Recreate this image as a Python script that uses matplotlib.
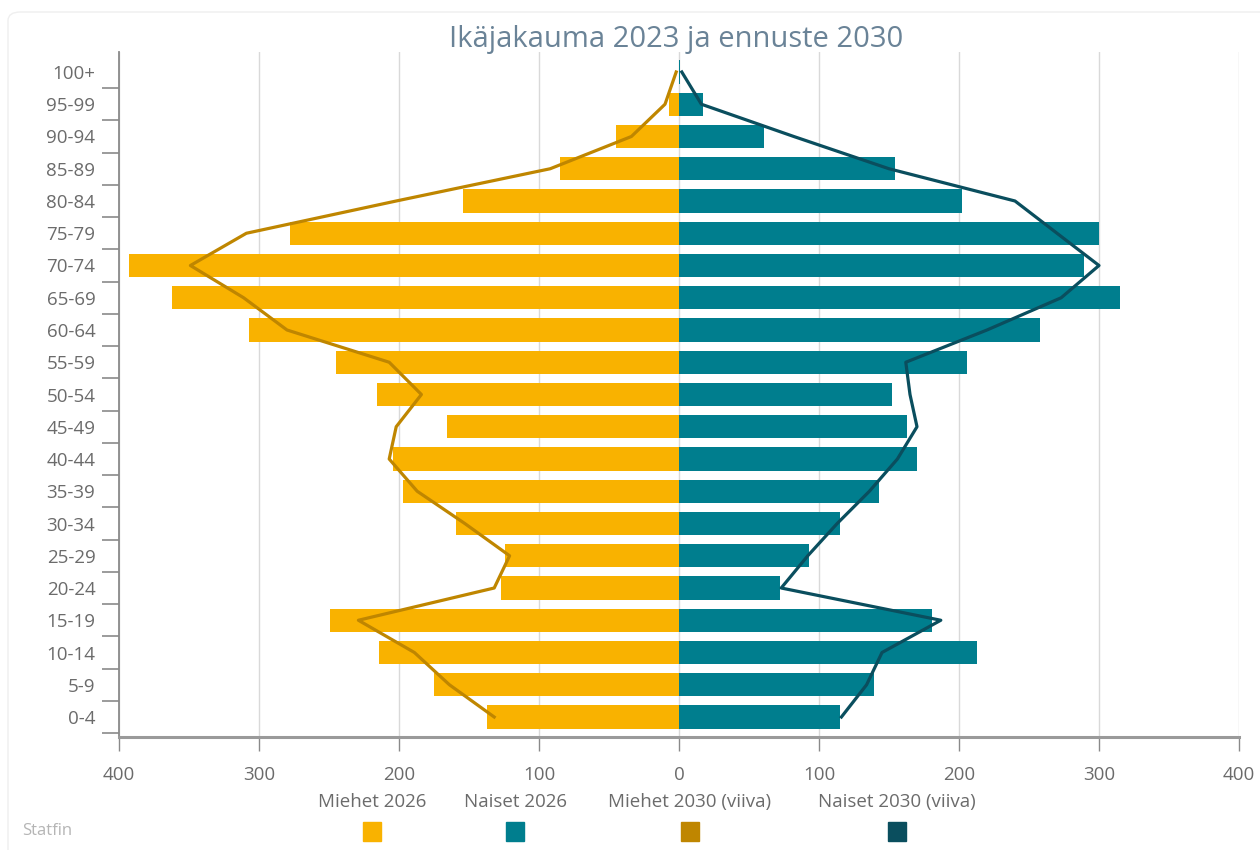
import matplotlib.pyplot as plt
from matplotlib.patches import Rectangle, FancyBboxPatch
from matplotlib.ticker import FuncFormatter, FixedLocator

plt.rcParams['font.family'] = ['Open Sans', 'DejaVu Sans']

age_groups = ['0-4', '5-9', '10-14', '15-19', '20-24', '25-29', '30-34', '35-39',
              '40-44', '45-49', '50-54', '55-59', '60-64', '65-69', '70-74', '75-79',
              '80-84', '85-89', '90-94', '95-99', '100+']
men_2026 = [137, 175, 214, 249, 127, 124, 159, 197, 204, 166, 216, 245,
            307, 362, 393, 278, 154, 85, 45, 7, 0]
women_2026 = [115, 139, 213, 181, 72, 93, 115, 143, 170, 163, 152, 206,
              258, 315, 289, 300, 202, 154, 61, 17, 1]
men_2030 = [132, 164, 189, 229, 132, 121, 153, 187, 207, 202, 184, 207,
            280, 311, 349, 309, 202, 92, 34, 10, 2]
women_2030 = [116, 134, 145, 187, 73, 92, 113, 136, 156, 170, 165, 162,
              220, 273, 300, 270, 240, 150, 82, 16, 2]
legend_labels = ['Miehet 2026', 'Naiset 2026', 'Miehet 2030 (viiva)', 'Naiset 2030 (viiva)']

c_men = '#f9b200'
c_women = '#007e8e'
c_men_line = '#bf8600'
c_women_line = '#0a4e5e'
grey = '#6b6b6b'

fig = plt.figure(figsize=(12.6, 8.5), dpi=100)
ax = fig.add_axes([119 / 1260, 1 - 737 / 850, 1120 / 1260, 685 / 850])

y = list(range(len(age_groups)))
ax.barh(y, [-v for v in men_2026], height=0.72, color=c_men, zorder=2)
ax.barh(y, women_2026, height=0.72, color=c_women, zorder=2)
ax.plot([-v for v in men_2030], y, color=c_men_line, lw=2.3, zorder=3)
ax.plot(women_2030, y, color=c_women_line, lw=2.3, zorder=3)

ax.set_xlim(-400, 400)
ax.set_ylim(-0.62, 20.62)
ax.set_xticks(range(-400, 401, 100))
ax.xaxis.set_major_formatter(FuncFormatter(lambda v, p: f'{abs(int(v))}'))
ax.set_yticks(y)
ax.set_yticklabels(age_groups)
ax.yaxis.set_minor_locator(FixedLocator([i - 0.5 for i in range(1, len(age_groups))] + [-0.5]))
ax.tick_params(axis='y', which='major', length=0, pad=17, labelsize=13.5, labelcolor=grey)
ax.tick_params(axis='y', which='minor', length=12, width=1.2, color='#8a8a8a')
ax.tick_params(axis='x', length=10, width=1, color='#8a8a8a', pad=11, labelsize=13.5, labelcolor=grey)

ax.grid(axis='x', color='#d9d9d9', lw=1, zorder=0)
ax.set_axisbelow(True)
for s in ['top', 'right']:
    ax.spines[s].set_visible(False)
ax.spines['left'].set_color('#8a8a8a')
ax.spines['left'].set_linewidth(1.3)
ax.spines['bottom'].set_color('#9a9a9a')
ax.spines['bottom'].set_linewidth(2.2)

fig.text(676 / 1260, 1 - 40 / 850, 'Ikäjakauma 2023 ja ennuste 2030', ha='center', va='center',
         fontsize=21, color='#6a8397')

# legend: labels above colored squares
leg_x = [372, 515, 690, 897]
leg_colors = [c_men, c_women, c_men_line, c_women_line]
for lx, lab, col in zip(leg_x, legend_labels, leg_colors):
    fig.text(lx / 1260, 1 - 802 / 850, lab, ha='center', va='center', fontsize=13.5, color=grey)
    fig.add_artist(Rectangle(((lx - 9) / 1260, 1 - 841 / 850), 18 / 1260, 19 / 850,
                             transform=fig.transFigure, color=col))

fig.text(22 / 1260, 1 - 831 / 850, 'Statfin', ha='left', va='center', fontsize=12, color='#b5b5b5')

fig.add_artist(FancyBboxPatch((8 / 1260, -0.02), 1.2, 1 - 12 / 850 + 0.02,
                              boxstyle='round,pad=0,rounding_size=0.01',
                              transform=fig.transFigure, fill=False, ec='#efefef', lw=1))

fig.savefig('out.png', dpi=100)
